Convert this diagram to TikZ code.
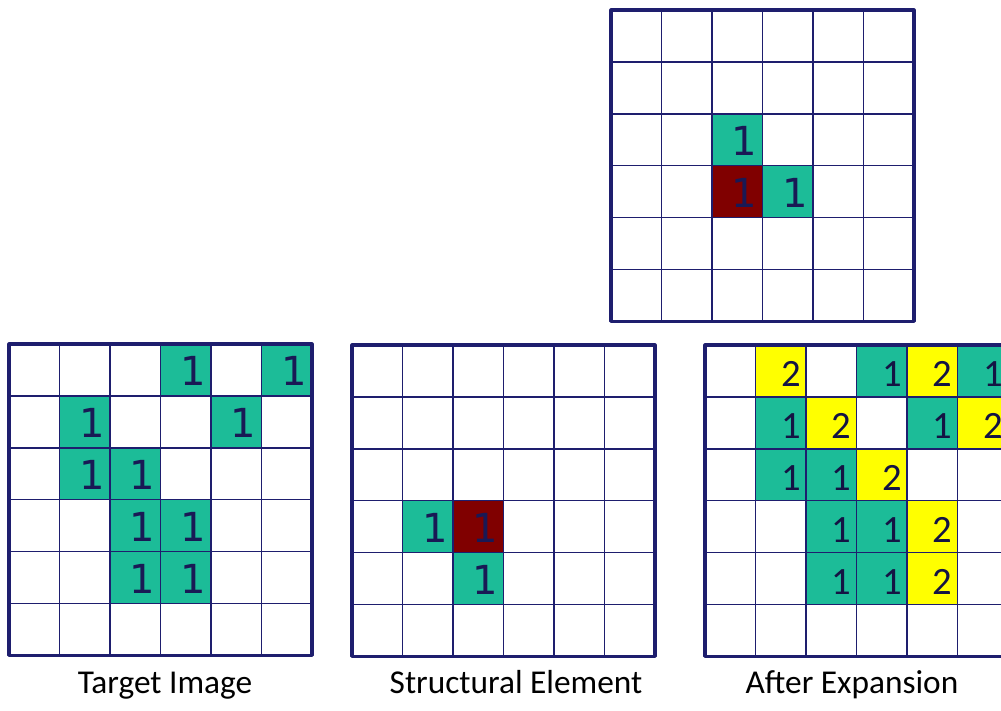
\documentclass[tikz,border=0pt]{standalone}
\usepackage{fontspec}
\setmainfont{Carlito}
\newfontfamily\digitfont{DejaVu Sans}
\definecolor{gridnavy}{RGB}{30,30,110}
\definecolor{digitnavy}{RGB}{25,25,85}
\definecolor{cellteal}{RGB}{28,188,152}
\definecolor{cellred}{RGB}{128,0,0}
\definecolor{cellyellow}{RGB}{255,255,0}
\tikzset{
	thin grid/.style={draw=gridnavy, line width=1.1pt},
	thick grid/.style={draw=gridnavy, line width=2.3pt},
	digit/.style={anchor=base east, inner sep=0pt, text=digitnavy, font=\digitfont\fontsize{30}{30}\selectfont},
	digit small/.style={anchor=base east, inner sep=0pt, text=digitnavy!80!black, font=\fontsize{29}{29}\selectfont},
	caption/.style={anchor=base, inner sep=0pt, font=\fontsize{25}{25}\selectfont}
}
\begin{document}
\begin{tikzpicture}[x=0.75pt,y=-0.75pt, line join=round]
	\useasboundingbox (0,0) rectangle (1001,711);
	\def\cw{50.5}
	\def\ch{51.9}
	% one 6x6 board: origin, name, digit style, filled cells col/row/colour/digit
	\def\board(#1,#2)#3#4#5{%
		\begin{scope}[shift={(#1,#2)}]
			\foreach \c/\r/\col/\d in {#5} {
				\fill[fill=\col] (\c*\cw,\r*\ch) rectangle ++(\cw,\ch);
				\node[#4] (#3-\c-\r) at ({(\c+1)*\cw-5},{(\r+1)*\ch-10}) {\d};
			}
			\foreach \i in {1,...,5}
				\draw[thin grid] (\i*\cw,0) -- (\i*\cw,6*\ch) (0,\i*\ch) -- (6*\cw,\i*\ch);
			\draw[thick grid] (0,0) rectangle (6*\cw,6*\ch);
		\end{scope}}
	\board(611,10){top}{digit}{2/2/cellteal/1, 2/3/cellred/1, 3/3/cellteal/1}
	\board(9,344){target}{digit}{3/0/cellteal/1, 5/0/cellteal/1, 1/1/cellteal/1, 4/1/cellteal/1,
		1/2/cellteal/1, 2/2/cellteal/1, 2/3/cellteal/1, 3/3/cellteal/1, 2/4/cellteal/1, 3/4/cellteal/1}
	\board(352,345){element}{digit}{1/3/cellteal/1, 2/3/cellred/1, 2/4/cellteal/1}
	\board(705,345){expanded}{digit small}{1/0/cellyellow/2, 3/0/cellteal/1, 4/0/cellyellow/2, 5/0/cellteal/1,
		1/1/cellteal/1, 2/1/cellyellow/2, 4/1/cellteal/1, 5/1/cellyellow/2,
		1/2/cellteal/1, 2/2/cellteal/1, 3/2/cellyellow/2,
		2/3/cellteal/1, 3/3/cellteal/1, 4/3/cellyellow/2,
		2/4/cellteal/1, 3/4/cellteal/1, 4/4/cellyellow/2}
	\node[caption] (target label) at (165,693) {Target Image};
	\node[caption] (element label) at (516,693) {Structural Element};
	\node[caption] (expanded label) at (852,693) {After Expansion};
\end{tikzpicture}
\end{document}
